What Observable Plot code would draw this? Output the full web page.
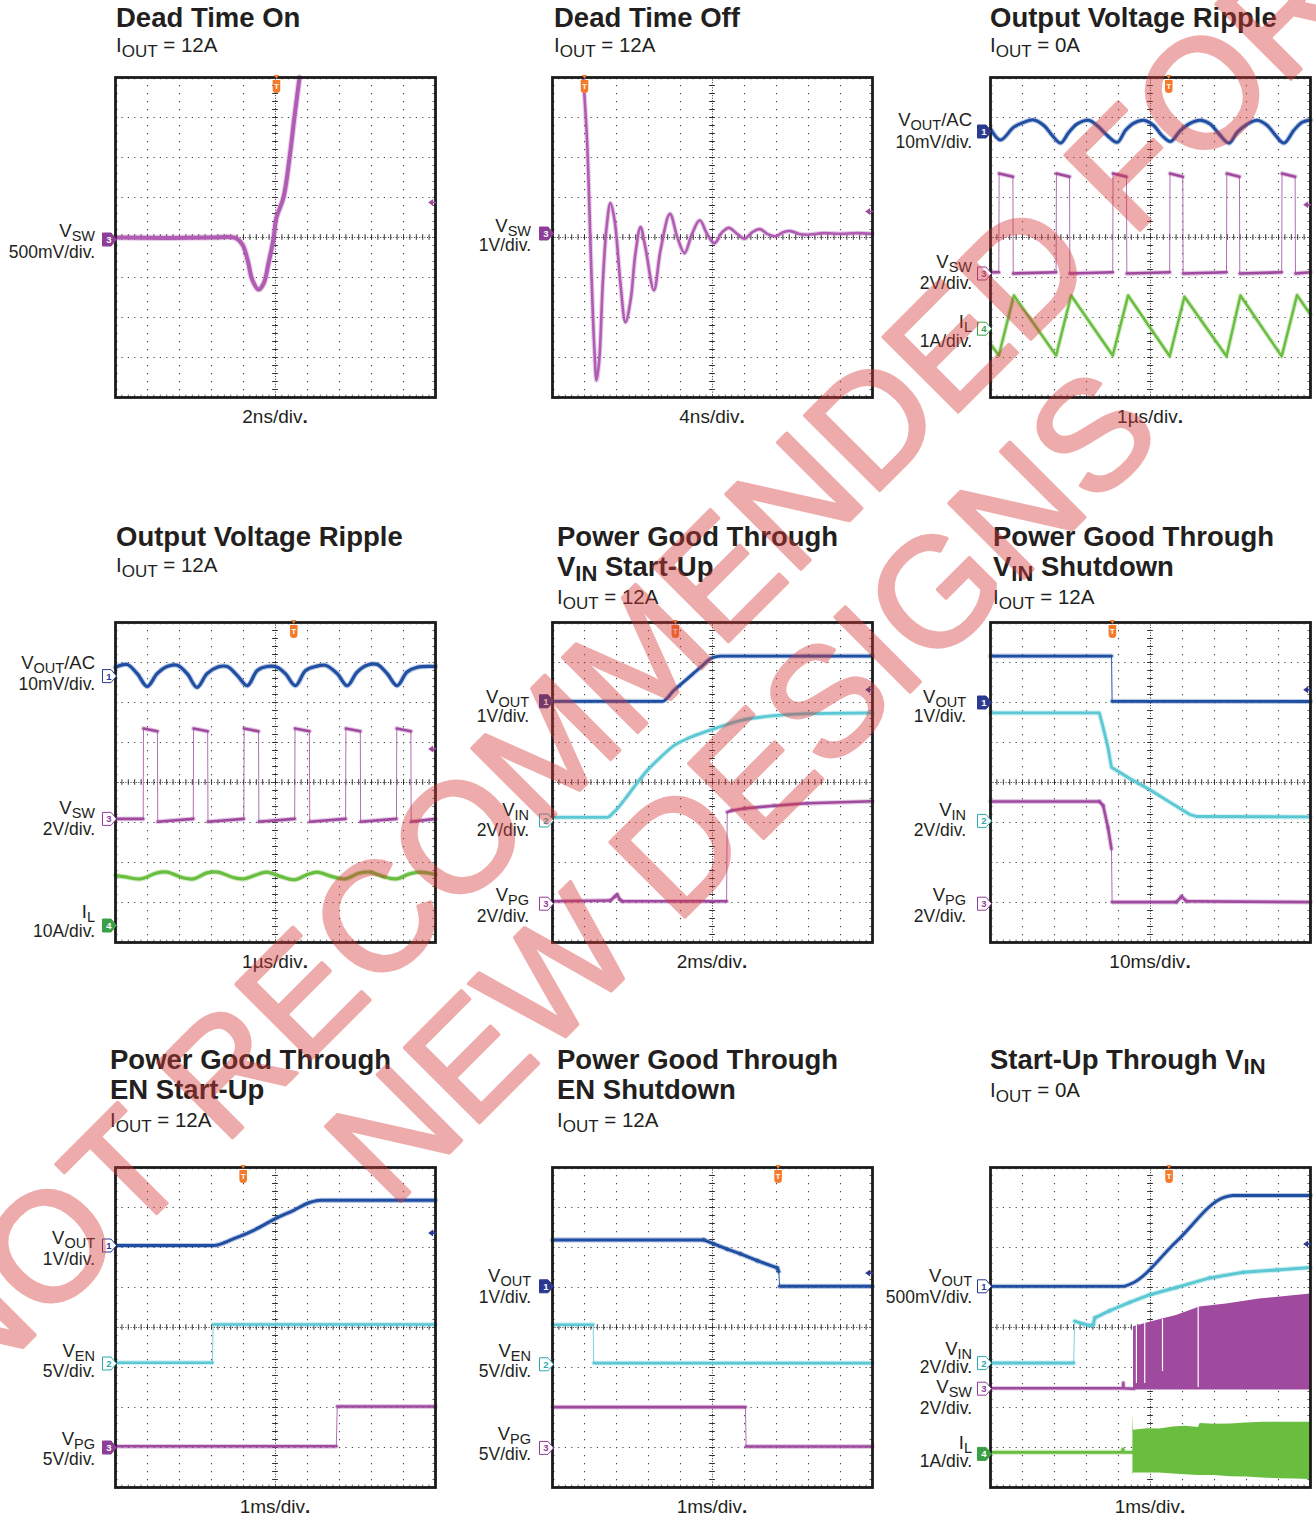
<!DOCTYPE html>
<html><head><meta charset="utf-8"><title>Typical waveforms</title>
<script src="https://cdn.jsdelivr.net/npm/d3@7"></script>
<script src="https://cdn.jsdelivr.net/npm/@observablehq/plot@0.6"></script>
<style>
html,body{margin:0;padding:0;background:#fff;}
#page{position:relative;width:1316px;height:1519px;overflow:hidden;background:#fff;}
#page svg{position:absolute;}
</style></head><body><div id="page"></div>
<script>
// ---------------- DATA (oscilloscope divisions: x 0..10, y 0..8) ----------------
// Dead Time On
const dtOnVsw = [[0,4.0],[1.5,3.99],[3,4.0],[3.75,3.99],[3.97,3.82],[4.13,3.43],[4.28,2.93],[4.47,2.7],[4.63,2.85],[4.78,3.35],[4.94,3.98],[5.03,4.5],[5.25,5.0],[5.44,6.0],[5.59,7.0],[5.75,8.0]];
// Dead Time Off
const dtOffVsw = [[0.96,8.0],[1.08,6.42],[1.21,3.26],[1.31,1.18],[1.375,0.43],[1.46,0.93],[1.57,2.84],[1.69,4.26],[1.81,4.86],[1.94,4.43],[2.125,2.84],[2.28,1.88],[2.44,2.43],[2.59,3.59],[2.75,4.26],[2.9,3.76],[3.17,2.68],[3.375,3.68],[3.67,4.59],[3.9,4.01],[4.125,3.61],[4.36,4.09],[4.6,4.43],[4.83,4.09],[5.06,3.86],[5.3,4.13],[5.51,4.24],[5.77,4.09],[6.0,3.97],[6.24,4.13],[6.48,4.21],[6.71,4.09],[6.97,4.03],[7.21,4.13],[7.44,4.16],[7.7,4.09],[7.96,4.07],[8.48,4.11],[9.0,4.09],[9.52,4.11],[10,4.09]];
// Output Voltage Ripple, IOUT = 0A
const rip0Vout = [[0,6.72],[0.31,6.44],[0.73,6.76],[1.04,6.88],[1.35,6.94],[1.67,6.8],[1.93,6.55],[2.19,6.36],[2.45,6.63],[2.71,6.84],[3.07,6.93],[3.33,6.8],[3.65,6.55],[3.96,6.38],[4.22,6.68],[4.48,6.86],[4.79,6.93],[5.1,6.8],[5.36,6.55],[5.625,6.4],[5.94,6.68],[6.25,6.86],[6.56,6.93],[6.875,6.83],[7.14,6.59],[7.45,6.36],[7.71,6.63],[8.02,6.83],[8.33,6.93],[8.65,6.8],[8.91,6.55],[9.17,6.36],[9.48,6.68],[9.74,6.88],[10,6.94]];
const rip0Vsw = [[0,3.13],[0.26,3.13],[0.27,5.6],[0.7,5.52],[0.71,3.1],[2.05,3.13],[2.06,5.6],[2.47,5.52],[2.48,3.1],[3.82,3.13],[3.83,5.6],[4.25,5.52],[4.26,3.1],[5.6,3.13],[5.61,5.6],[6.01,5.52],[6.02,3.1],[7.375,3.13],[7.385,5.6],[7.78,5.52],[7.79,3.1],[9.1,3.13],[9.11,5.6],[9.52,5.52],[9.53,3.1],[10,3.13]];
const rip0Il = [[0,1.34],[0.26,1.05],[0.73,2.55],[2.05,1.05],[2.52,2.55],[3.82,1.05],[4.3,2.55],[5.6,1.03],[6.06,2.52],[7.375,1.03],[7.81,2.55],[9.1,1.03],[9.58,2.56],[10,2.07]];
// Output Voltage Ripple, IOUT = 12A
const rip12Vout = [[0,6.88],[0.36,6.95],[0.68,6.72],[0.99,6.4],[1.3,6.72],[1.61,6.9],[1.93,6.93],[2.24,6.72],[2.55,6.38],[2.86,6.72],[3.18,6.88],[3.49,6.9],[3.8,6.68],[4.12,6.42],[4.43,6.8],[4.74,6.9],[5.05,6.88],[5.31,6.72],[5.62,6.42],[5.94,6.8],[6.25,6.9],[6.56,6.93],[6.93,6.72],[7.24,6.42],[7.55,6.76],[7.86,6.93],[8.18,6.95],[8.49,6.72],[8.8,6.42],[9.11,6.76],[9.43,6.88],[10,6.9]];
const rip12Vsw = [[0,3.09],[0.865,3.09],[0.875,5.35],[1.31,5.28],[1.32,3.02],[2.43,3.09],[2.44,5.35],[2.88,5.28],[2.89,3.02],[4.01,3.09],[4.02,5.35],[4.47,5.28],[4.48,3.02],[5.6,3.09],[5.61,5.35],[6.06,5.28],[6.07,3.02],[7.19,3.09],[7.2,5.35],[7.65,5.28],[7.66,3.02],[8.78,3.09],[8.79,5.35],[9.23,5.28],[9.24,3.02],[10,3.09]];
const rip12Il = [[0,1.68],[0.3,1.64],[0.78,1.59],[1.3,1.74],[1.61,1.76],[2.1,1.62],[2.43,1.59],[2.86,1.74],[3.2,1.76],[3.7,1.62],[4.01,1.59],[4.5,1.72],[4.74,1.76],[5.2,1.64],[5.6,1.57],[6.0,1.7],[6.3,1.76],[6.8,1.64],[7.19,1.59],[7.6,1.73],[7.95,1.76],[8.4,1.64],[8.78,1.59],[9.2,1.72],[9.5,1.76],[10,1.7]];
// Power Good Through VIN Start-Up
const pgVinUpVout = [[0,6.03],[3.43,6.03],[3.79,6.3],[4.21,6.59],[4.625,6.88],[4.99,7.12],[5.25,7.16],[10,7.16]];
const pgVinUpVin = [[0,3.13],[1.71,3.13],[1.92,3.26],[2.23,3.55],[2.54,3.88],[2.96,4.3],[3.375,4.63],[3.79,4.92],[4.31,5.13],[5.04,5.34],[5.875,5.55],[6.92,5.67],[7.96,5.72],[10,5.74]];
const pgVinUpVpg = [[0,1.03],[1.81,1.05],[1.95,1.15],[2.02,1.2],[2.1,1.08],[2.18,1.03],[5.44,1.03],[5.46,3.26],[5.6,3.3],[6.0,3.35],[6.92,3.42],[7.96,3.48],[10,3.53]];
// Power Good Through VIN Shutdown
const pgVinDnVout = [[0,7.16],[3.78,7.16],[3.8,6.03],[10,6.025]];
const pgVinDnVin = [[0,5.74],[3.4,5.74],[3.52,5.38],[3.67,4.88],[3.78,4.38],[4.35,4.1],[4.98,3.82],[5.6,3.51],[6.23,3.2],[6.44,3.15],[10,3.14]];
const pgVinDnVpg = [[0,3.525],[3.4,3.525],[3.52,3.425],[3.67,2.88],[3.78,2.34],[3.8,1.01],[5.81,1.01],[5.97,1.15],[6.125,1.03],[10,1.01]];
// Power Good Through EN Start-Up
const pgEnUpVout = [[0,6.05],[3.07,6.05],[3.7,6.22],[4.32,6.43],[5.0,6.72],[5.57,6.93],[6.09,7.13],[6.41,7.18],[10,7.18]];
const pgEnUpVen = [[0,3.12],[3.03,3.12],[3.05,4.075],[10,4.075]];
const pgEnUpVpg = [[0,1.03],[6.9,1.03],[6.93,2.025],[10,2.025]];
// Power Good Through EN Shutdown
const pgEnDnVout = [[0,6.19],[4.73,6.19],[5.04,6.09],[5.46,5.96],[5.875,5.84],[6.4,5.67],[7.02,5.49],[7.07,5.4],[7.1,5.03],[10,5.03]];
const pgEnDnVen = [[0,4.07],[1.27,4.07],[1.29,3.11],[10,3.11]];
const pgEnDnVpg = [[0,2.01],[6.03,2.01],[6.05,1.025],[10,1.025]];
// Start-Up Through VIN
const suVout = [[0,5.03],[4.15,5.03],[4.41,5.1],[5.81,6.15],[7.32,7.26],[7.58,7.3],[10,7.3]];
const suVin = [[0,3.11],[2.6,3.11],[2.63,4.16],[2.9,4.09],[3.1,4.05],[3.21,4.07],[3.26,4.24],[3.73,4.42],[4.35,4.63],[4.98,4.82],[5.81,5.0],[6.85,5.24],[7.9,5.38],[8.94,5.44],[10,5.5]];
const suVswLine = [[0,2.48],[4.14,2.48],[4.15,2.62],[4.16,2.48],[4.48,2.47]];
const suVswBand = [[4.47,2.44,4.02],[4.98,2.44,4.13],[5.4,2.44,4.22],[5.81,2.44,4.3],[6.54,2.44,4.51],[7.375,2.44,4.59],[8.4,2.44,4.71],[10,2.44,4.84]];
const suVswGaps = [[4.56,2.6,4.05],[4.82,2.6,4.1],[5.375,2.9,4.2],[6.49,2.5,4.5]];
const suIlLine = [[0,0.88],[4.1,0.88],[4.14,0.96],[4.16,0.88],[4.46,0.88]];
const suIlBand = [[4.45,0.3,1.84],[4.47,0.36,1.43],[4.9,0.36,1.47],[5.3,0.36,1.46],[5.7,0.34,1.51],[6.1,0.32,1.53],[6.5,0.3,1.5],[6.55,0.3,1.6],[7.0,0.3,1.58],[7.5,0.27,1.59],[8.0,0.26,1.61],[8.5,0.24,1.63],[9.0,0.22,1.63],[9.5,0.21,1.63],[10,0.2,1.63]];

const WATERMARK = ["NOT RECOMMENDED FOR", "NEW DESIGNS"];

// ---------------- STYLE ----------------
const BLUE="#1f4ea3", CYAN="#5bc8d3", PURPLE="#9f4a9f", MAGENTA="#b15cb3", GREEN="#69bd3f";
const NAVY="#2b3990", TEAL="#30a9ae", MK_PURPLE="#8e3e98", MK_GREEN="#3a9f46", ORANGE="#f47b2c";
const INK="#231f20";
const FONT="'Liberation Sans', Arial, Helvetica, sans-serif";

const panels = [
 {x0:114,y0:76,title:[["Dead Time On",27]],tx:116,sub:"I_{OUT} = 12A",subY:52,xl:"2ns/div",xlY:423,lr:95,
  labels:[["V_{SW}","500mV/div.",237,258]],
  traces:[{data:dtOnVsw,color:MAGENTA,w:4,curve:"catmull-rom"}],
  markers:[["3",3.95,MK_PURPLE,true]],trig:5.03,level:[4.875,PURPLE]},
 {x0:551,y0:76,title:[["Dead Time Off",27]],tx:554,sub:"I_{OUT} = 12A",subY:52,xl:"4ns/div",xlY:423,lr:531,
  labels:[["V_{SW}","1V/div.",232,251]],
  traces:[{data:dtOffVsw,color:MAGENTA,w:2.6,curve:"catmull-rom"}],
  markers:[["3",4.1,MK_PURPLE,true]],trig:1.0,level:[4.65,PURPLE]},
 {x0:989,y0:76,title:[["Output Voltage Ripple",27]],tx:990,sub:"I_{OUT} = 0A",subY:52,xl:"1µs/div",xlY:423,lr:972,
  labels:[["V_{OUT}/AC","10mV/div.",126,148],["V_{SW}","2V/div.",268,289],["I_{L}","1A/div.",328,347]],
  traces:[{data:rip0Vout,color:BLUE,w:3,curve:"catmull-rom"},{data:rip0Vsw,color:PURPLE,w:2.6,edge:1,split:true},{data:rip0Il,color:GREEN,w:2.4}],
  markers:[["1",6.65,NAVY,true],["3",3.1,MK_PURPLE,false],["4",1.72,MK_GREEN,false]],trig:5.57,level:[4.82,PURPLE]},
 {x0:114,y0:621,title:[["Output Voltage Ripple",546]],tx:116,sub:"I_{OUT} = 12A",subY:572,xl:"1µs/div",xlY:968,lr:95,
  labels:[["V_{OUT}/AC","10mV/div.",669,690],["V_{SW}","2V/div.",814,835],["I_{L}","10A/div.",918,937]],
  traces:[{data:rip12Vout,color:BLUE,w:3.2,curve:"catmull-rom"},{data:rip12Vsw,color:PURPLE,w:2.6,edge:1,split:true},{data:rip12Il,color:GREEN,w:3.2,curve:"catmull-rom"}],
  markers:[["1",6.66,NAVY,false],["3",3.09,MK_PURPLE,false],["4",0.425,MK_GREEN,true]],trig:5.57,level:[4.84,PURPLE]},
 {x0:551,y0:621,title:[["Power Good Through",546],["V_{IN} Start-Up",576]],tx:557,sub:"I_{OUT} = 12A",subY:604,xl:"2ms/div",xlY:968,lr:529,
  labels:[["V_{OUT}","1V/div.",703,722],["V_{IN}","2V/div.",816,836],["V_{PG}","2V/div.",901,922]],
  traces:[{data:pgVinUpVout,color:BLUE,w:2.8,curve:"monotone-x"},{data:pgVinUpVin,color:CYAN,w:2.8,curve:"monotone-x"},{data:pgVinUpVpg,color:PURPLE,w:2.6,edge:1,split:true}],
  markers:[["1",6.03,NAVY,true],["2",3.05,TEAL,false],["3",0.97,MK_PURPLE,false]],trig:3.84,level:[6.32,NAVY]},
 {x0:989,y0:621,title:[["Power Good Through",546],["V_{IN} Shutdown",576]],tx:993,sub:"I_{OUT} = 12A",subY:604,xl:"10ms/div",xlY:968,lr:966,
  labels:[["V_{OUT}","1V/div.",703,722],["V_{IN}","2V/div.",816,836],["V_{PG}","2V/div.",901,922]],
  traces:[{data:pgVinDnVout,color:BLUE,w:2.8,edge:1.2,split:true},{data:pgVinDnVin,color:CYAN,w:2.8},{data:pgVinDnVpg,color:PURPLE,w:2.6,edge:1,split:true}],
  markers:[["1",6.0,NAVY,true],["2",3.04,TEAL,false],["3",0.97,MK_PURPLE,false]],trig:3.81,level:[6.32,NAVY]},
 {x0:114,y0:1166,title:[["Power Good Through",1069],["EN Start-Up",1099]],tx:110,sub:"I_{OUT} = 12A",subY:1127,xl:"1ms/div",xlY:1513,lr:95,
  labels:[["V_{OUT}","1V/div.",1244,1265],["V_{EN}","5V/div.",1357,1377],["V_{PG}","5V/div.",1445,1465]],
  traces:[{data:pgEnUpVout,color:BLUE,w:3,curve:"monotone-x"},{data:pgEnUpVen,color:CYAN,w:2.6,edge:1,split:true},{data:pgEnUpVpg,color:PURPLE,w:2.6,edge:1,split:true}],
  markers:[["1",6.05,NAVY,false],["2",3.1,TEAL,false],["3",1.0,MK_PURPLE,true]],trig:3.99,level:[6.36,NAVY]},
 {x0:551,y0:1166,title:[["Power Good Through",1069],["EN Shutdown",1099]],tx:557,sub:"I_{OUT} = 12A",subY:1127,xl:"1ms/div",xlY:1513,lr:531,
  labels:[["V_{OUT}","1V/div.",1282,1303],["V_{EN}","5V/div.",1357,1377],["V_{PG}","5V/div.",1440,1460]],
  traces:[{data:pgEnDnVout,color:BLUE,w:3,edge:1.2,split:true},{data:pgEnDnVen,color:CYAN,w:2.6,edge:1,split:true},{data:pgEnDnVpg,color:PURPLE,w:2.6,edge:1,split:true}],
  markers:[["1",5.03,NAVY,true],["2",3.08,TEAL,false],["3",0.99,MK_PURPLE,false]],trig:7.05,level:[5.36,NAVY]},
 {x0:989,y0:1166,title:[["Start-Up Through V_{IN}",1069]],tx:990,sub:"I_{OUT} = 0A",subY:1097,xl:"1ms/div",xlY:1513,lr:972,
  labels:[["V_{OUT}","500mV/div.",1282,1303],["V_{IN}","2V/div.",1355,1373],["V_{SW}","2V/div.",1393,1414],["I_{L}","1A/div.",1449,1467]],
  traces:[{band:suVswBand,color:PURPLE,gaps:suVswGaps},{data:suVswLine,color:PURPLE,w:2.4},{band:suIlBand,color:GREEN},{data:suIlLine,color:GREEN,w:2.8},
          {data:suVout,color:BLUE,w:2.8,curve:"monotone-x"},{data:suVin,color:CYAN,w:3,edge:1,split:true}],
  markers:[["1",5.03,NAVY,false],["2",3.11,TEAL,false],["3",2.47,MK_PURPLE,false],["4",0.84,MK_GREEN,true]],trig:5.58,level:[6.09,NAVY]}
];

// ---------------- SYMBOLS ----------------
const tagSym = {draw(c){c.moveTo(-13,-6.5);c.lineTo(-4.5,-6.5);c.lineTo(1,0);c.lineTo(-4.5,6.5);c.lineTo(-13,6.5);c.closePath();}};
const trigSym = {draw(c){
  c.moveTo(-2.5,-2.5);c.lineTo(2.5,-2.5);c.lineTo(0,1.5);c.closePath();
  c.moveTo(-3.8,2.5);c.lineTo(3.8,2.5);c.lineTo(3.8,12);c.quadraticCurveTo(3.8,15.5,0,15.5);c.quadraticCurveTo(-3.8,15.5,-3.8,12);c.closePath();}};
const levelSym = {draw(c){c.moveTo(-3.5,0);c.lineTo(1.5,-3.5);c.lineTo(1.5,3.5);c.closePath();c.moveTo(1.5,-0.8);c.lineTo(4.5,-0.8);c.lineTo(4.5,0.8);c.lineTo(1.5,0.8);c.closePath();}};

// ---------------- PLOTS ----------------
const page = document.getElementById("page");
const ML=30, MR=6, MT=6, MB=6, W=ML+320+MR, H=MT+320+MB;
const minorX = d3.range(0, 10.0001, 0.2), minorY = d3.range(0, 8.0001, 0.2);
const X = d => d[0], Y = d => d[1];

for (const p of panels) {
  const marks = [
    Plot.ruleX([1,2,3,4,6,7,8,9], {stroke:"#444", strokeWidth:1.1, strokeDasharray:"1.2,6.8"}),
    Plot.ruleY([1,2,3,5,6,7], {stroke:"#444", strokeWidth:1.1, strokeDasharray:"1.2,5.2"}),
    Plot.ruleX([5], {stroke:"#333", strokeWidth:1, strokeDasharray:"1,1.6"}),
    Plot.ruleY([4], {stroke:"#333", strokeWidth:1, strokeDasharray:"1,1.6"}),
    Plot.ruleX(minorX, {x:d=>d, y1:3.93, y2:4.07, stroke:"#333", strokeWidth:1}),
    Plot.ruleY(minorY, {y:d=>d, x1:4.91, x2:5.09, stroke:"#333", strokeWidth:1}),
    Plot.ruleX(minorX, {x:d=>d, y1:7.94, y2:8, stroke:"#666", strokeWidth:1}),
    Plot.ruleX(minorX, {x:d=>d, y1:0, y2:0.06, stroke:"#666", strokeWidth:1}),
    Plot.ruleY(minorY, {y:d=>d, x1:0, x2:0.08, stroke:"#666", strokeWidth:1}),
    Plot.ruleY(minorY, {y:d=>d, x1:9.92, x2:10, stroke:"#666", strokeWidth:1})
  ];
  for (const t of p.traces) {
    if (t.band) marks.push(Plot.areaY(t.band, {x:X, y1:d=>d[1], y2:d=>d[2], fill:t.color}));
    if (t.gaps) marks.push(Plot.ruleX(t.gaps, {x:X, y1:d=>d[1], y2:d=>d[2], stroke:"white", strokeWidth:1.2}));
    if (t.data) {
      if (t.split) {
        marks.push(Plot.line(t.data, {x:X, y:Y, stroke:t.color, strokeWidth:t.edge||1, strokeOpacity:0.8}));
        const segs = d3.pairs(t.data).filter(([a,b]) => b[0]-a[0] > 0.035);
        const lk = {x1:d=>d[0][0], y1:d=>d[0][1], x2:d=>d[1][0], y2:d=>d[1][1], stroke:t.color, strokeLinecap:"round"};
        marks.push(Plot.link(segs, {...lk, strokeWidth:t.w + 2.2, strokeOpacity:0.3}));
        marks.push(Plot.link(segs, {...lk, strokeWidth:t.w}));
      } else {
        const ln = {x:X, y:Y, stroke:t.color, curve:t.curve||"linear", strokeLinejoin:"round", strokeLinecap:"round"};
        marks.push(Plot.line(t.data, {...ln, strokeWidth:t.w + 2.2, strokeOpacity:0.3}));
        marks.push(Plot.line(t.data, {...ln, strokeWidth:t.w}));
      }
    }
  }
  marks.push(Plot.frame({stroke:"#1b1b1b", strokeWidth:2.8}));
  // trigger position marker
  marks.push(Plot.dot([p.trig], {x:d=>d, y:()=>8, symbol:trigSym, fill:ORANGE, stroke:"none"}));
  marks.push(Plot.text([p.trig], {x:d=>d, y:()=>8, dy:9.2, text:()=>"T", fill:"white", fontSize:7.5, fontWeight:"bold", fontFamily:FONT}));
  // trigger level marker
  marks.push(Plot.dot([p.level], {x:()=>9.88, y:d=>d[0], symbol:levelSym, fill:p.level[1], stroke:"none"}));
  // channel ground markers
  for (const [ch, y, color, filled] of p.markers) {
    marks.push(Plot.dot([y], {x:()=>0, y:d=>d, symbol:tagSym, fill:filled?color:"white", stroke:color, strokeWidth:1}));
    marks.push(Plot.text([y], {x:()=>0, y:d=>d, dx:-6.5, dy:0.5, text:()=>ch, fill:filled?"white":color, fontSize:9.5, fontWeight:"bold", fontFamily:FONT}));
  }
  const svg = Plot.plot({
    width:W, height:H, marginLeft:ML, marginRight:MR, marginTop:MT, marginBottom:MB,
    x:{domain:[0,10], axis:null}, y:{domain:[0,8], axis:null},
    style:{background:"transparent", overflow:"visible"},
    marks
  });
  svg.style.left = (p.x0 + 1 - ML) + "px";
  svg.style.top = (p.y0 + 1 - MT) + "px";
  page.appendChild(svg);
}

// ---------------- TEXT OVERLAY ----------------
const ov = d3.select(page).append("svg").attr("width",1316).attr("height",1519)
  .style("left","0px").style("top","0px").style("font-family",FONT).style("pointer-events","none");

function rich(str, x, y, o) {
  const t = ov.append("text").attr("x",x).attr("y",y).attr("fill",INK)
    .attr("font-size",o.size).attr("font-weight",o.weight||"normal")
    .attr("text-anchor",o.anchor||"start").style("white-space","pre");
  const parts = str.split(/(_\{[^}]*\})/).filter(s => s.length);
  let shifted = 0;
  for (const part of parts) {
    const m = part.match(/^_\{(.*)\}$/);
    if (m) { t.append("tspan").attr("dy", o.shift - shifted).attr("font-size", o.sub).text(m[1]); shifted = o.shift; }
    else { const ts = t.append("tspan").text(part); if (shifted) { ts.attr("dy", -shifted); shifted = 0; } }
  }
  return t;
}

for (const p of panels) {
  for (const [line, y] of p.title) rich(line, p.tx, y, {size:27.5, sub:22, shift:5, weight:"bold"});
  rich(p.sub, p.tx, p.subY, {size:20.5, sub:17, shift:5});
  for (const [l1, l2, y1, y2] of p.labels) {
    rich(l1, p.lr, y1, {size:18.5, sub:14.5, shift:4, anchor:"end"});
    rich(l2, p.lr, y2, {size:17.5, sub:14, shift:4, anchor:"end"});
  }
  const xt = ov.append("text").attr("x", p.x0 + 161).attr("y", p.xlY).attr("text-anchor","middle")
    .attr("font-size",19).attr("fill",INK);
  xt.append("tspan").text(p.xl);
  xt.append("tspan").attr("font-weight","bold").text(".");
}

// watermark
const wm = ov.append("g").attr("opacity",0.42).attr("transform","translate(663,707) rotate(-45)");
wm.selectAll("text").data(WATERMARK).join("text")
  .attr("x",0).attr("y",(d,i)=>i*164).attr("text-anchor","middle")
  .attr("font-size",154).attr("fill","#d83a3a").attr("stroke","#d83a3a")
  .attr("stroke-width",3.5).attr("stroke-linejoin","round").text(d=>d);
</script></body></html>
